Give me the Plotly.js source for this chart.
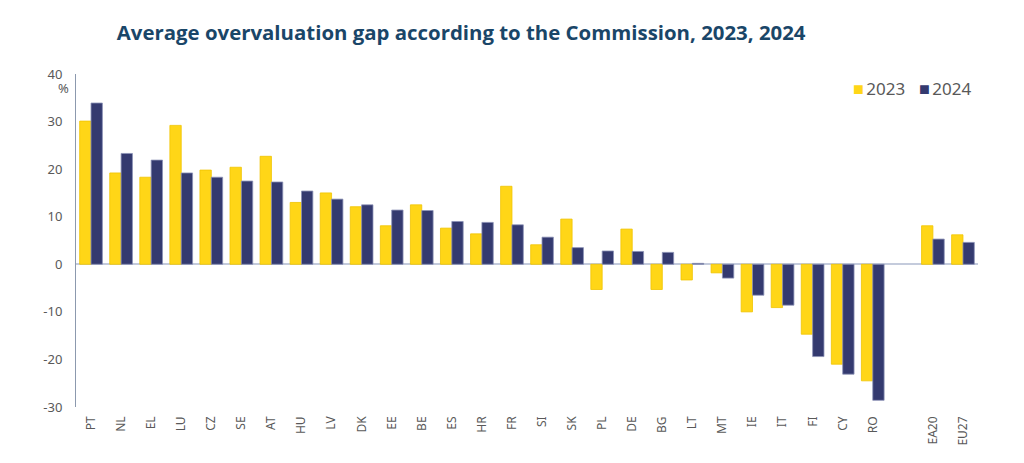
<!DOCTYPE html>
<html>
<head>
<meta charset="utf-8">
<script src="https://cdn.plot.ly/plotly-3.0.1.min.js"></script>
<style>
  html, body { margin: 0; padding: 0; background: #ffffff; }
  #chart { width: 1024px; height: 463px; }
</style>
</head>
<body>
<div id="chart"></div>
<script>
const categories = ["PT","NL","EL","LU","CZ","SE","AT","HU","LV","DK","EE","BE","ES","HR","FR","SI","SK","PL","DE","BG","LT","MT","IE","IT","FI","CY","RO"," ","EA20","EU27"];
const values2023 = [30.1,19.2,18.3,29.2,19.8,20.4,22.7,13.0,15.0,12.1,8.1,12.5,7.6,6.4,16.4,4.1,9.5,-5.3,7.4,-5.3,-3.3,-1.8,-10.0,-9.1,-14.7,-21.0,-24.5,null,8.1,6.2];
const values2024 = [33.9,23.3,21.9,19.2,18.3,17.5,17.3,15.4,13.7,12.5,11.4,11.3,9.0,8.8,8.3,5.7,3.5,2.8,2.7,2.5,0.2,-2.9,-6.5,-8.6,-19.4,-23.1,-28.6,null,5.3,4.6];
const seriesNames = ["2023","2024"];
const seriesColors = ["#FFD617","#343A6F"];
const yTicks = [-30,-20,-10,0,10,20,30,40];

const traces = [
  {
    type: "bar", name: seriesNames[0], x: categories, y: values2023,
    marker: { color: seriesColors[0], line: { color: "#F0C400", width: 0.8 } },
    hoverinfo: "x+y+name"
  },
  {
    type: "bar", name: seriesNames[1], x: categories, y: values2024,
    marker: { color: seriesColors[1], line: { color: "#8C92B6", width: 0.8 } },
    hoverinfo: "x+y+name"
  }
];

function legendLabel(i) {
  return '<span style="font-size:18px;color:' + seriesColors[i] + '">■</span>' +
         '<span style="font-size:9px"> </span>' + seriesNames[i];
}

const layout = {
  width: 1024, height: 463,
  margin: { l: 76, r: 46, t: 74, b: 56 },
  paper_bgcolor: "#ffffff", plot_bgcolor: "#ffffff",
  font: { family: "Noto Sans, Open Sans, sans-serif", color: "#595959", size: 13 },
  title: {
    text: "<b>Average overvaluation gap according to the Commission, 2023, 2024</b>",
    font: { family: "Open Sans, Noto Sans, sans-serif", size: 20.4, color: "#1A4668" },
    x: 0.427, xanchor: "center", xref: "paper",
    y: 0.93, yanchor: "middle", yref: "container"
  },
  barmode: "group",
  bargap: 0.245,
  bargroupgap: 0,
  showlegend: false,
  xaxis: {
    type: "category", categoryorder: "array", categoryarray: categories,
    tickangle: -90, tickfont: { size: 12, color: "#595959" },
    showgrid: false, showline: false, zeroline: false, ticks: "",
    automargin: false, ticklabelstandoff: 6, fixedrange: true
  },
  yaxis: {
    range: [-30, 40], tickvals: yTicks, ticktext: yTicks.map(String),
    showgrid: false, showline: true, linecolor: "#8C99AE", linewidth: 1,
    zeroline: true, zerolinecolor: "#C4CBDC", zerolinewidth: 2,
    ticks: "", tickfont: { size: 13, color: "#595959" },
    ticklabelstandoff: 10, automargin: false, fixedrange: true
  },
  annotations: [
    { text: "%", xref: "paper", yref: "paper", x: -0.0144, y: 0.958,
      xanchor: "center", yanchor: "middle", showarrow: false,
      font: { size: 13, color: "#595959" } },
    { text: legendLabel(0), xref: "paper", yref: "paper", x: 0.921, y: 0.958,
      xanchor: "right", yanchor: "middle", showarrow: false,
      font: { size: 17, color: "#595959" } },
    { text: legendLabel(1), xref: "paper", yref: "paper", x: 0.9945, y: 0.958,
      xanchor: "right", yanchor: "middle", showarrow: false,
      font: { size: 17, color: "#595959" } }
  ]
};

Plotly.newPlot("chart", traces, layout, { displayModeBar: false, staticPlot: true });
</script>
</body>
</html>
